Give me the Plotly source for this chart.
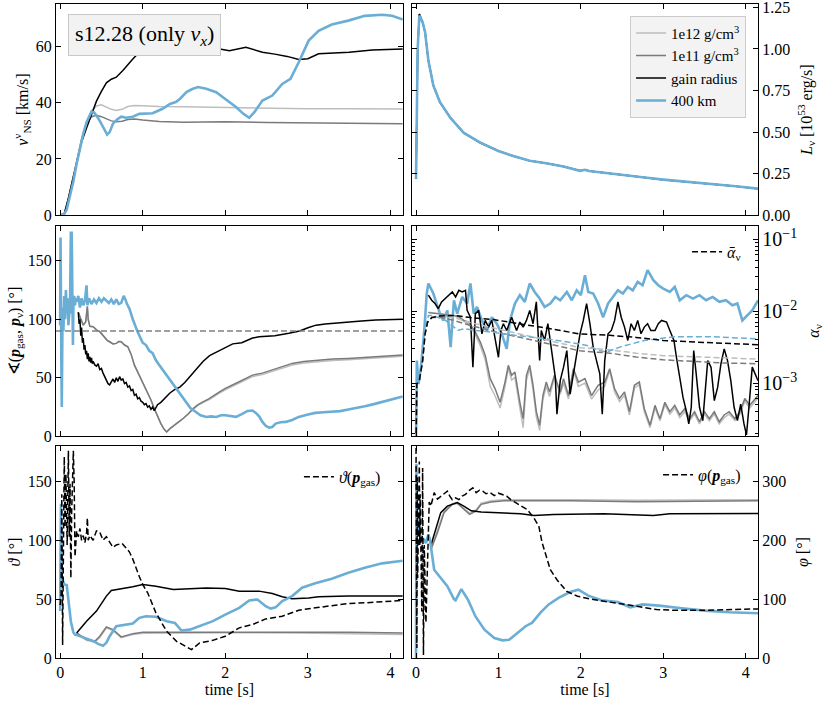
import plotly.graph_objects as go

# ---------------- values (time in s) ----------------

# neutrino kick velocity [km/s]
t_vns_inner = [0, 0.05, 0.1, 0.15, 0.2, 0.26, 0.32, 0.38, 0.44, 0.5, 0.56, 0.62, 0.68, 0.75, 0.82, 0.9, 1.0, 1.2,
               1.5, 2.0, 2.5, 3.0, 3.5, 4.15]
vns_1e12 = [0, 0.5, 6, 12, 19, 27, 33, 37, 38.8, 39.2, 38.5, 37.6, 37.2, 37.6, 38.6, 39, 38.9, 38.6,
            38.5, 38.2, 37.9, 37.8, 37.8, 37.7]
vns_1e11 = [0, 0.5, 6, 12, 19, 27, 32.5, 35, 35.5, 35, 34.3, 33.5, 33.2, 33.4, 34, 34.2, 33.8, 33.3,
            33, 33.2, 32.9, 32.8, 32.7, 32.5]
t_vns_gain = [0, 0.05, 0.1, 0.15, 0.2, 0.26, 0.32, 0.38, 0.44, 0.5,
              0.56, 0.62, 0.68, 0.76, 0.82, 0.88, 0.96, 1.05, 1.3, 1.6,
              1.85, 2.05, 2.25, 2.45, 2.6, 2.75, 2.89, 3.0, 3.13, 3.3,
              3.5, 3.78, 4.15]
vns_gain = [0, 0.5, 6, 12, 19, 26, 31, 36, 40.5, 44,
            47, 48.3, 49, 51.4, 53.5, 55.5, 57.9, 59, 60, 60,
            59.5, 58.4, 59.6, 57.9, 57.2, 56.4, 55.3, 55.6, 57.3, 57.6,
            57.9, 58.7, 59]
t_vns_400 = [0, 0.05, 0.08, 0.12, 0.16, 0.2, 0.24, 0.28, 0.32, 0.35,
             0.38, 0.41, 0.44, 0.48, 0.52, 0.55, 0.57, 0.6, 0.64, 0.69,
             0.74, 0.8, 0.88, 0.96, 1.04, 1.12, 1.18, 1.24, 1.33, 1.4,
             1.45, 1.53, 1.6, 1.67, 1.77, 1.89, 2.0, 2.13, 2.22, 2.29,
             2.35, 2.45, 2.57, 2.69, 2.79, 2.89, 3.01, 3.13, 3.29, 3.49,
             3.69, 3.9, 4.02, 4.15]
vns_400 = [0, 0.5, 2, 6.5, 12, 18.3, 24, 28.9, 33, 35,
           36.8, 36.5, 35.4, 33.5, 31.3, 29.5, 28.6, 29.5, 32.5, 34,
           35, 34.6, 35, 36, 36, 36.2, 37, 37.8, 39.5, 40.2,
           41.3, 43.7, 44.8, 45.5, 44.9, 43.7, 41.3, 38.4, 36, 34.6,
           36.5, 40.7, 42.5, 46.6, 48.4, 54.3, 62, 65.5, 67.7, 69.1,
           70.8, 71.2, 70.8, 69.5]

# neutrino luminosity [1e53 erg/s]
t_lum = [0, 0.005, 0.02, 0.04, 0.06, 0.08, 0.11, 0.15, 0.21, 0.29,
         0.42, 0.58, 0.78, 1.0, 1.18, 1.38, 1.58, 1.79, 1.99, 2.05,
         2.1, 2.27, 2.51, 2.75, 3.0, 3.28, 3.56, 3.88, 4.15]
lum_400 = [0.22, 0.45, 1.0, 1.2, 1.18, 1.16, 1.1, 0.93, 0.78, 0.68,
           0.584, 0.495, 0.436, 0.386, 0.356, 0.327, 0.313, 0.293, 0.267, 0.273,
           0.266, 0.257, 0.242, 0.228, 0.214, 0.202, 0.192, 0.174, 0.16]
lum_inner = [0.22, 0.45, 1.0, 1.21, 1.18, 1.16, 1.1, 0.93, 0.78, 0.68,
             0.584, 0.495, 0.436, 0.386, 0.356, 0.327, 0.313, 0.293, 0.267, 0.273,
             0.266, 0.257, 0.242, 0.228, 0.214, 0.202, 0.192, 0.174, 0.16]

# angle between gas momentum and neutrino momentum [deg]
ortho_angle = 90
t_ang_gain = [0.22, 0.23, 0.24, 0.25, 0.26, 0.27, 0.28, 0.29, 0.30, 0.31,
              0.32, 0.33, 0.34, 0.35, 0.36, 0.37, 0.38, 0.39, 0.40, 0.42,
              0.44, 0.46, 0.48, 0.50, 0.52, 0.54, 0.56, 0.58, 0.60, 0.62,
              0.64, 0.66, 0.68, 0.70, 0.72, 0.74, 0.76, 0.78, 0.80, 0.82,
              0.84, 0.86, 0.88, 0.90, 0.92, 0.94, 0.96, 0.98, 1.00, 1.02,
              1.04, 1.06, 1.08, 1.10, 1.12, 1.14, 1.18, 1.22, 1.27, 1.33,
              1.39, 1.45, 1.51, 1.57, 1.65, 1.73, 1.81, 1.89, 2.0, 2.09,
              2.2, 2.33, 2.41, 2.49, 2.6, 2.77, 2.9, 3.01, 3.1, 3.21,
              3.35, 3.49, 3.65, 3.82, 4.0, 4.15]
ang_gain = [106, 96, 100, 86, 93, 80, 84, 74, 78, 70,
            73, 66, 71, 64, 68, 63, 67, 62, 64, 61,
            60, 62, 57, 58, 54, 51, 47, 45, 44, 47,
            49, 46, 50, 47, 51, 48, 49, 45, 46, 42,
            43, 39, 40, 35, 36, 32, 33, 30, 29, 27,
            28, 25, 26, 23, 25, 22, 27, 29, 33, 37,
            40, 42, 46, 51, 57, 64, 69, 72, 76, 79,
            80, 84, 85, 85.5, 86, 88, 90, 93, 95, 96,
            97, 98, 98.6, 99.4, 99.5, 100]
t_ang_inner = [0.22, 0.25, 0.28, 0.31, 0.33, 0.34, 0.36, 0.40, 0.44, 0.48,
               0.51, 0.54, 0.57, 0.60, 0.64, 0.68, 0.71, 0.74, 0.78, 0.82,
               0.86, 0.90, 0.94, 0.98, 1.02, 1.06, 1.10, 1.14, 1.18, 1.22,
               1.26, 1.29, 1.33, 1.39, 1.44, 1.49, 1.55, 1.61, 1.67, 1.73,
               1.8, 1.93, 2.0, 2.15, 2.33, 2.45, 2.57, 2.7, 2.81, 2.95,
               3.09, 3.3, 3.49, 3.65, 3.82, 4.0, 4.15]
ang_1e11 = [106, 100, 95, 98, 111, 100, 94, 93.7, 91, 89.4,
            87, 83.7, 82, 80.8, 79, 79.4, 81, 80.8, 78, 76.5,
            70, 60.8, 55, 49.4, 44, 38, 31, 23.7, 17, 10.9,
            6, 3.7, 6.5, 9.4, 12.5, 15.2, 19, 23.7, 27, 29.4,
            32, 38, 40.9, 46, 52.3, 54, 56.6, 60, 62.3, 64,
            65, 66, 66.6, 67.3, 68, 68.7, 69.4]
ang_1e12 = [106, 100, 95, 98, 111, 100, 94, 93.7, 91, 89.4,
            87, 83.7, 82, 80.8, 79, 79.4, 81, 80.8, 78, 76.5,
            70, 60.8, 55, 49.4, 44, 38, 31, 23.7, 17, 10.9,
            6, 3.7, 6.5, 9.4, 12.5, 15.2, 19, 23.2, 26.5, 28.8,
            31.2, 37, 39.8, 44.8, 51, 52.7, 55.3, 58.7, 61, 62.7,
            63.7, 64.8, 65.5, 66.2, 67, 67.7, 68.5]
t_ang_400 = [0.0, 0.005, 0.01, 0.015, 0.02, 0.025, 0.03, 0.04, 0.05, 0.06,
             0.07, 0.08, 0.09, 0.10, 0.11, 0.12, 0.13, 0.135, 0.14, 0.145,
             0.15, 0.155, 0.16, 0.17, 0.18, 0.19, 0.20, 0.22, 0.24, 0.26,
             0.28, 0.30, 0.32, 0.33, 0.35, 0.38, 0.41, 0.44, 0.47, 0.50,
             0.53, 0.56, 0.59, 0.62, 0.65, 0.68, 0.71, 0.74, 0.77, 0.79,
             0.81, 0.84, 0.88, 0.94, 1.0, 1.04, 1.08, 1.12, 1.16, 1.2,
             1.25, 1.3, 1.35, 1.4, 1.46, 1.52, 1.58, 1.64, 1.7, 1.77,
             1.83, 1.89, 1.95, 2.0, 2.07, 2.13, 2.2, 2.27, 2.33, 2.37,
             2.41, 2.45, 2.49, 2.53, 2.57, 2.61, 2.67, 2.73, 2.81, 2.89,
             2.99, 3.09, 3.19, 3.29, 3.39, 3.49, 3.59, 3.69, 3.8, 3.9,
             4.0, 4.15]
ang_400 = [95, 170, 120, 60, 25, 70, 110, 90, 120, 100,
           125, 105, 118, 95, 110, 112, 175, 105, 175, 150,
           120, 78, 110, 120, 112, 118, 115, 120, 110, 118,
           112, 116, 129, 112, 118, 113, 117, 114, 118, 115,
           118, 116, 114, 117, 113, 117, 113, 114, 120, 117,
           113, 109, 100, 89, 80, 78, 73, 71, 65, 61,
           56, 51, 46, 41, 35, 29, 24, 21, 18, 16.5,
           17, 16.5, 18, 18, 17, 16.6, 19, 21.7, 22, 20,
           17, 12.3, 9, 7.4, 8, 10.9, 12, 12.3, 14, 16.6,
           18.5, 20, 20.5, 20.9, 21.5, 22.9, 24, 25.7, 27.5, 29.4,
           31, 34]

# anisotropy parameter alpha_nu (solid) and its time average (dashed)
t_alpha_400 = [0.0, 0.01, 0.03, 0.06, 0.1, 0.13, 0.15, 0.18, 0.21, 0.25,
               0.29, 0.33, 0.38, 0.42, 0.46, 0.5, 0.56, 0.62, 0.66, 0.7,
               0.74, 0.8, 0.86, 0.92, 0.98, 1.04, 1.1, 1.14, 1.2, 1.26,
               1.32, 1.38, 1.44, 1.5, 1.56, 1.63, 1.69, 1.75, 1.83, 1.89,
               1.95, 2.0, 2.05, 2.09, 2.15, 2.21, 2.27, 2.33, 2.39, 2.45,
               2.51, 2.57, 2.63, 2.69, 2.75, 2.81, 2.88, 2.94, 3.0, 3.08,
               3.14, 3.2, 3.28, 3.36, 3.44, 3.52, 3.6, 3.68, 3.76, 3.84,
               3.9, 3.96, 4.02, 4.08, 4.15]
alpha_400 = [0.00015, 0.00205, 0.00097, 0.00166, 0.00537, 0.0175, 0.0241, 0.0205, 0.0175, 0.0127,
             0.0092, 0.0074, 0.0102, 0.00315, 0.0141, 0.0092, 0.0157, 0.0127, 0.0241, 0.0092,
             0.0114, 0.0074, 0.00537, 0.0082, 0.00666, 0.00483, 0.00298, 0.0074, 0.0127, 0.0166,
             0.0134, 0.0241, 0.0184, 0.0149, 0.0114, 0.0127, 0.0157, 0.0141, 0.0184, 0.0141,
             0.0194, 0.0166, 0.0315, 0.0184, 0.0175, 0.0127, 0.0082, 0.0127, 0.0157, 0.0194,
             0.0175, 0.0216, 0.0194, 0.0254, 0.0228, 0.0369, 0.0268, 0.0228, 0.0205, 0.0184,
             0.0216, 0.0141, 0.0166, 0.0149, 0.0166, 0.0141, 0.0157, 0.0134, 0.0141, 0.0120,
             0.0127, 0.0074, 0.0087, 0.0102, 0.0141]
t_alpha_gain = [0.15, 0.19, 0.23, 0.27, 0.31, 0.35, 0.40, 0.44, 0.48, 0.52,
                0.56, 0.6, 0.62, 0.66, 0.69, 0.72, 0.76, 0.80, 0.84, 0.88,
                0.92, 0.96, 1.0, 1.03, 1.06, 1.10, 1.16, 1.22, 1.26, 1.30,
                1.34, 1.38, 1.42, 1.46, 1.50, 1.52, 1.56, 1.60, 1.65, 1.69,
                1.71, 1.75, 1.79, 1.83, 1.87, 1.91, 1.95, 1.99, 2.03, 2.07,
                2.11, 2.15, 2.19, 2.23, 2.26, 2.29, 2.33, 2.37, 2.41, 2.45,
                2.49, 2.53, 2.57, 2.61, 2.65, 2.69, 2.73, 2.77, 2.81, 2.85,
                2.90, 2.94, 2.98, 3.04, 3.08, 3.13, 3.16, 3.20, 3.24, 3.28,
                3.31, 3.34, 3.37, 3.40, 3.44, 3.48, 3.52, 3.54, 3.58, 3.62,
                3.66, 3.70, 3.74, 3.78, 3.82, 3.86, 3.90, 3.94, 3.98, 4.01,
                4.04, 4.08, 4.15]
alpha_gain = [0.0166, 0.0141, 0.0127, 0.0108, 0.0134, 0.0149, 0.0166, 0.0184, 0.0157, 0.0194,
              0.0184, 0.0194, 0.0102, 0.0082, 0.00166, 0.0092, 0.0102, 0.00483, 0.0074, 0.00598,
              0.0074, 0.00434, 0.00228, 0.00537, 0.00666, 0.00537, 0.0082, 0.00537, 0.00703, 0.00598,
              0.0074, 0.0102, 0.00666, 0.0134, 0.00205, 0.00537, 0.0039, 0.00666, 0.00254, 0.0012,
              0.00037, 0.00108, 0.00166, 0.00282, 0.0007, 0.00134, 0.00254, 0.00483, 0.0074, 0.0127,
              0.00666, 0.00315, 0.00205, 0.00134, 0.00037, 0.00205, 0.00483, 0.00537, 0.0074, 0.0134,
              0.0082, 0.00598, 0.0039, 0.00666, 0.00537, 0.0074, 0.00483, 0.00598, 0.00666, 0.00537,
              0.00537, 0.00666, 0.0074, 0.00703, 0.00537, 0.0039, 0.00228, 0.0012, 0.00063, 0.00041,
              0.00027, 0.00046, 0.00282, 0.00134, 0.00046, 0.0003, 0.00108, 0.00205, 0.00166, 0.00057,
              0.00087, 0.00184, 0.00298, 0.00205, 0.00108, 0.00046, 0.0003, 0.00051, 0.00027, 0.00019,
              0.00046, 0.00166, 0.00108]
t_alpha_inner = [0.15, 0.25, 0.35, 0.45, 0.51, 0.58, 0.64, 0.72, 0.78, 0.84,
                 0.90, 0.96, 1.02, 1.08, 1.12, 1.16, 1.20, 1.26, 1.30, 1.34,
                 1.38, 1.42, 1.46, 1.50, 1.54, 1.58, 1.62, 1.68, 1.75, 1.79,
                 1.85, 1.91, 1.97, 2.05, 2.13, 2.21, 2.29, 2.35, 2.41, 2.47,
                 2.53, 2.59, 2.65, 2.71, 2.77, 2.84, 2.90, 2.96, 3.02, 3.08,
                 3.14, 3.20, 3.26, 3.32, 3.38, 3.44, 3.50, 3.56, 3.62, 3.68,
                 3.74, 3.80, 3.87, 3.93, 3.99, 4.05, 4.15]
alpha_1e11 = [0.0095, 0.0092, 0.0089, 0.0087, 0.0085, 0.0074, 0.00703, 0.0051, 0.0037, 0.00242,
              0.00115, 0.00083, 0.00054, 0.00103, 0.00176, 0.00128, 0.00142, 0.00054, 0.00032, 0.00128,
              0.00176, 0.00093, 0.0004, 0.00026, 0.00067, 0.00103, 0.00075, 0.00128, 0.00075, 0.00115,
              0.00067, 0.00158, 0.00103, 0.00115, 0.00067, 0.00093, 0.00103, 0.00158, 0.00083, 0.00061,
              0.00075, 0.0004, 0.00093, 0.00103, 0.00044, 0.00026, 0.00049, 0.00032, 0.00054, 0.0004,
              0.00049, 0.00036, 0.00044, 0.00032, 0.0004, 0.00029, 0.0004, 0.00032, 0.0004, 0.00029,
              0.00036, 0.0004, 0.00032, 0.0004, 0.00061, 0.00049, 0.00067]
alpha_1e12 = [0.0096, 0.0094, 0.0090, 0.0086, 0.0082, 0.0072, 0.0066, 0.0047, 0.0033, 0.0021,
              0.0009, 0.00066, 0.00045, 0.0009, 0.0016, 0.0011, 0.0012, 0.00045, 0.00024, 0.0011,
              0.0016, 0.0008, 0.00034, 0.00022, 0.0006, 0.0009, 0.00065, 0.0012, 0.0007, 0.001,
              0.0006, 0.0015, 0.0009, 0.001, 0.0006, 0.0008, 0.0009, 0.0015, 0.00075, 0.00055,
              0.00068, 0.00036, 0.00085, 0.00095, 0.0004, 0.00024, 0.00045, 0.0003, 0.0005, 0.00037,
              0.00045, 0.00033, 0.0004, 0.0003, 0.00037, 0.00027, 0.00037, 0.0003, 0.00037, 0.00027,
              0.00033, 0.00037, 0.0003, 0.00037, 0.00056, 0.00045, 0.00062]
t_abar = [0.0, 0.01, 0.04, 0.08, 0.11, 0.14, 0.19, 0.29, 0.46, 0.66,
          0.94, 1.26, 1.58, 1.99, 2.35, 2.67, 3.0, 3.4, 3.72, 4.15]
abar_gain = [0.00015, 0.00097, 0.00108, 0.00205, 0.00483, 0.0070, 0.0081, 0.0085, 0.0087, 0.0081,
             0.0076, 0.00666, 0.0058, 0.0048, 0.0046, 0.0043, 0.0039, 0.0037, 0.0036, 0.0034]
abar_1e11 = [0.00015, 0.00097, 0.00108, 0.00205, 0.00483, 0.0070, 0.0081, 0.0082, 0.0074, 0.0063,
             0.0052, 0.0043, 0.0036, 0.0028, 0.0026, 0.0023, 0.0021, 0.00198, 0.0019, 0.00185]
abar_1e12 = [0.00015, 0.00097, 0.00108, 0.00205, 0.00483, 0.0070, 0.0082, 0.0085, 0.0081, 0.0069,
             0.0058, 0.0048, 0.0040, 0.0031, 0.0029, 0.0026, 0.0024, 0.0023, 0.0022, 0.00215]
t_abar_400 = [0.0, 0.01, 0.04, 0.08, 0.11, 0.15, 0.2, 0.35, 0.51, 0.59,
              0.7, 0.91, 1.2, 1.6, 1.97, 2.09, 2.21, 2.31, 2.49, 2.77,
              3.14, 3.58, 4.15]
abar_400 = [0.00015, 0.00097, 0.00108, 0.0022, 0.0055, 0.0087, 0.0087, 0.0075, 0.0054, 0.0057,
            0.0054, 0.0051, 0.0046, 0.0041, 0.0035, 0.0033, 0.00284, 0.0027, 0.0032, 0.0039,
            0.0044, 0.0044, 0.0041]

# polar angle theta [deg]
t_theta_gas = [0.0, 0.012, 0.02, 0.03, 0.05, 0.06, 0.07, 0.085, 0.10, 0.11,
               0.12, 0.13, 0.14, 0.16, 0.17, 0.18, 0.2, 0.22, 0.24, 0.26,
               0.28, 0.3, 0.32, 0.33, 0.34, 0.36, 0.4, 0.44, 0.48, 0.52,
               0.56, 0.6, 0.64, 0.68, 0.72, 0.75, 0.78, 0.81, 0.84, 0.88,
               0.92, 0.96, 1.0, 1.06, 1.16, 1.29, 1.41, 1.51, 1.59, 1.69,
               1.85, 2.0, 2.17, 2.33, 2.49, 2.69, 2.89, 3.09, 3.29, 3.49,
               3.69, 3.9, 4.15]
theta_gas = [45, 54, 139, 11, 171, 111, 156, 96, 176, 103,
             148, 68, 125, 176, 150, 86, 108, 103, 110, 100,
             104, 98, 106, 119, 100, 104, 100, 108, 107, 100,
             103, 98, 94, 96, 97, 97.4, 95, 92.3, 90, 84,
             76, 69, 62.5, 55.4, 38.4, 22.7, 14.2, 9.9, 7.1, 12.8,
             15, 18.5, 25.6, 28.4, 33.2, 35.5, 40.6, 42.6, 44.6, 46.3,
             46.9, 47.7, 48.9]
t_theta_gain = [0.2, 0.32, 0.44, 0.56, 0.62, 0.76, 0.88, 1.0, 1.16, 1.37, 1.57, 1.77, 2.0, 2.17, 2.41,
                2.57, 2.69, 2.81, 3.01, 3.13, 3.49, 4.15]
theta_gain = [21.3, 31.3, 39.8, 52.6, 57.4, 58.8, 60.5, 62.5, 61, 58.2, 58.8, 59.4, 59.1, 56.8, 56.8,
              54.8, 52, 50.3, 50.9, 52, 52.6, 52.6]
t_theta_inner = [0.2, 0.32, 0.42, 0.48, 0.56, 0.64, 0.74, 0.88, 1.0, 1.29, 2.09, 2.89, 3.5, 4.15]
theta_1e11 = [21.3, 15.6, 14.2, 18.5, 26.4, 24.1, 17.9, 20.7, 21.9, 21.9, 22.2, 22.2, 21.9, 21.3]
theta_1e12 = [21, 15, 13.5, 17.5, 25.5, 23.5, 17.2, 20, 21, 21.2, 21.5, 21.2, 20.5, 20]
t_theta_400 = [0.0, 0.005, 0.01, 0.02, 0.05, 0.08, 0.1, 0.13, 0.16, 0.18,
               0.22, 0.3, 0.4, 0.46, 0.52, 0.56, 0.6, 0.68, 0.8, 0.88,
               0.96, 1.04, 1.16, 1.29, 1.39, 1.47, 1.57, 1.69, 1.85, 2.0,
               2.17, 2.29, 2.39, 2.49, 2.55, 2.61, 2.69, 2.81, 2.93, 3.09,
               3.29, 3.49, 3.69, 3.9, 4.15]
theta_400 = [40, 90, 131, 68.5, 62.5, 62, 50, 31, 22, 19.9,
             19, 17, 14.5, 12, 10.5, 13, 18.5, 27, 28.4, 29.3,
             34.1, 35.5, 35, 31.3, 29.8, 23.3, 24.1, 27, 31.3, 36.9,
             42.6, 48.9, 49.7, 44, 42, 43, 48.3, 52.6, 59.7, 63.4,
             67.3, 72.4, 76.7, 80.4, 82.6]

# azimuthal angle phi [deg]
t_phi_gas = [0.0, 0.01, 0.015, 0.02, 0.04, 0.045, 0.05, 0.07, 0.08, 0.09,
             0.10, 0.12, 0.14, 0.16, 0.18, 0.22, 0.26, 0.30, 0.34, 0.38,
             0.41, 0.44, 0.48, 0.52, 0.56, 0.6, 0.64, 0.69, 0.73, 0.77,
             0.81, 0.85, 0.9, 0.95, 1.0, 1.05, 1.1, 1.15, 1.25, 1.35,
             1.43, 1.49, 1.53, 1.57, 1.63, 1.71, 1.83, 1.96, 2.12, 2.28,
             2.48, 2.68, 2.92, 3.17, 3.49, 3.89, 4.15]
phi_gas = [357, 17, 307, 136, 334, 192, 278, 79, 323, 5,
           192, 60, 170, 265, 258, 281, 270, 275, 280, 283.6,
           275, 269, 272, 269, 275, 278, 284, 289, 281, 285,
           283.6, 279, 281, 276, 280, 278, 275, 269, 261, 252,
           238, 224, 196, 179, 150, 133, 113, 105, 100, 96.4,
           92.5, 88, 82.2, 81, 81, 82.2, 83.4]
t_phi_gain = [0.18, 0.24, 0.3, 0.38, 0.5, 0.58, 0.67, 0.79, 0.99, 1.27, 1.43, 1.67, 2.28, 2.88, 3.08, 4.15]
phi_gain = [191, 221, 247, 258, 264, 258, 250, 248, 247, 245, 242, 244, 245, 242, 245, 245.6]
t_phi_inner = [0.18, 0.26, 0.34, 0.44, 0.5, 0.58, 0.65, 0.73, 0.79, 0.91, 1.07, 1.88, 2.68, 4.15]
phi_1e11 = [184, 213, 247, 261, 263, 252, 244, 250, 261, 265, 267, 267, 265.5, 267]
phi_1e12 = [186, 216, 249, 262, 264, 254, 246, 252, 263, 267, 269, 269, 268, 269]
t_phi_400 = [0.0, 0.005, 0.01, 0.02, 0.05, 0.1, 0.12, 0.15, 0.17, 0.22,
             0.28, 0.38, 0.46, 0.48, 0.55, 0.63, 0.72, 0.83, 0.95, 1.05,
             1.13, 1.21, 1.33, 1.41, 1.51, 1.61, 1.73, 1.87, 1.97, 2.09,
             2.25, 2.45, 2.6, 2.75, 2.95, 3.2, 3.5, 3.8, 4.15]
phi_400 = [0, 330, 252, 230, 207, 201, 195, 210, 200, 150,
           139, 122, 100, 98, 117, 99, 71, 48, 34, 30,
           31, 40, 54, 60, 77, 91, 102, 112, 116, 106,
           98, 95, 86, 91, 89, 85, 80.5, 77.7, 76]

# ---------------- figure ----------------
light = '#bdbdbd'
grey = '#7a7a7a'
black = '#000000'
blue = '#6aaed6'
dashes = '6px,3px'

fig = go.Figure()


def add_line(x, y, ax, color, width=1.5, dash=None, name=None, legend=None):
    fig.add_trace(go.Scatter(x=x, y=y, xaxis='x' + ax, yaxis='y' + ax, mode='lines',
                             line=dict(color=color, width=width, dash=dash),
                             name=name, showlegend=name is not None, legend=legend,
                             hoverinfo='skip'))


# top left: kick velocity
add_line(t_vns_inner, vns_1e12, '', light)
add_line(t_vns_inner, vns_1e11, '', grey)
add_line(t_vns_gain, vns_gain, '', black)
add_line(t_vns_400, vns_400, '', blue, 2.6)

# top right: luminosity (carries the legend)
add_line(t_lum, lum_inner, '2', light, name='1e12 g/cm<sup>3</sup>', legend='legend')
add_line(t_lum, lum_inner, '2', grey, name='1e11 g/cm<sup>3</sup>', legend='legend')
add_line(t_lum, lum_inner, '2', black, name='gain radius', legend='legend')
add_line(t_lum, lum_400, '2', blue, 2.6, name='400 km', legend='legend')

# middle left: angle between momenta
add_line(t_ang_inner, ang_1e12, '3', light)
add_line(t_ang_inner, ang_1e11, '3', grey)
add_line(t_ang_gain, ang_gain, '3', black)
add_line(t_ang_400, ang_400, '3', blue, 2.6)

# middle right: anisotropy parameter
add_line(t_alpha_400, alpha_400, '4', blue, 2.6)
add_line(t_alpha_inner, alpha_1e12, '4', light)
add_line(t_alpha_inner, alpha_1e11, '4', grey)
add_line(t_alpha_gain, alpha_gain, '4', black)
add_line(t_abar, abar_1e12, '4', light, dash=dashes)
add_line(t_abar, abar_1e11, '4', grey, dash=dashes)
add_line(t_abar_400, abar_400, '4', blue, dash=dashes)
add_line(t_abar, abar_gain, '4', black, dash=dashes, name='<i>ᾱ</i><sub>ν</sub>', legend='legend2')

# bottom left: theta
add_line(t_theta_inner, theta_1e12, '5', light)
add_line(t_theta_inner, theta_1e11, '5', grey)
add_line(t_theta_gain, theta_gain, '5', black)
add_line(t_theta_400, theta_400, '5', blue, 2.6)
add_line(t_theta_gas, theta_gas, '5', black, dash=dashes,
         name='<i>ϑ</i>(<b><i>p</i></b><sub>gas</sub>)', legend='legend3')

# bottom right: phi
add_line(t_phi_inner, phi_1e12, '6', light)
add_line(t_phi_inner, phi_1e11, '6', grey)
add_line(t_phi_gain, phi_gain, '6', black)
add_line(t_phi_400, phi_400, '6', blue, 2.6)
add_line(t_phi_gas, phi_gas, '6', black, dash=dashes,
         name='<i>φ</i>(<b><i>p</i></b><sub>gas</sub>)', legend='legend4')

frame = dict(showline=True, linecolor='black', linewidth=1.1, mirror='allticks',
             ticks='inside', ticklen=5, tickwidth=1, tickcolor='black',
             showgrid=False, zeroline=False, tickfont=dict(size=16, color='black'),
             automargin=False)
t_range = [-0.05, 4.15]
t_ticks = [0, 1, 2, 3, 4]
col_l = [0, 0.494]
col_r = [0.507, 1]
row_top = [0.677, 1]
row_mid = [0.339, 0.661]
row_bot = [0, 0.324]
title_font = dict(size=16, color='black')
left_title = dict(font=title_font, standoff=3)
right_title = dict(font=title_font, standoff=11)

fig.update_layout(
    width=830, height=703,
    margin=dict(l=56, r=72, t=4, b=45),
    paper_bgcolor='white', plot_bgcolor='white',
    font=dict(family='Liberation Serif, DejaVu Serif, serif', size=16, color='black'),
    xaxis=dict(domain=col_l, anchor='y', range=t_range, tickvals=t_ticks, showticklabels=False, **frame),
    xaxis2=dict(domain=col_r, anchor='y2', range=t_range, tickvals=t_ticks, showticklabels=False, **frame),
    xaxis3=dict(domain=col_l, anchor='y3', range=t_range, tickvals=t_ticks, showticklabels=False, **frame),
    xaxis4=dict(domain=col_r, anchor='y4', range=t_range, tickvals=t_ticks, showticklabels=False, **frame),
    xaxis5=dict(domain=col_l, anchor='y5', range=t_range, tickvals=t_ticks,
                title=dict(text='time [s]', font=title_font, standoff=2), **frame),
    xaxis6=dict(domain=col_r, anchor='y6', range=t_range, tickvals=t_ticks,
                title=dict(text='time [s]', font=title_font, standoff=2), **frame),
    yaxis=dict(domain=row_top, anchor='x', range=[0, 75], tickvals=[0, 20, 40, 60],
               title=dict(text='<i>v</i><sup>ν</sup><sub>NS</sub> [km/s]', **left_title), **frame),
    yaxis2=dict(domain=row_top, anchor='x2', side='right', range=[0, 1.27],
                tickvals=[0, 0.25, 0.5, 0.75, 1.0, 1.25], tickformat='.2f', ticklabeloverflow='allow',
                title=dict(text='<i>L</i><sub>ν</sub> [10<sup>53</sup> erg/s]', **right_title), **frame),
    yaxis3=dict(domain=row_mid, anchor='x3', range=[0, 180], tickvals=[0, 50, 100, 150],
                title=dict(text='∢(<b><i>p</i></b><sub>gas</sub>, <b><i>p</i></b><sub>ν</sub>) [°]',
                           **left_title), **frame),
    yaxis4=dict(domain=row_mid, anchor='x4', side='right', type='log', range=[-3.74, -0.815],
                dtick=1, exponentformat='power', showexponent='all',
                minor=dict(ticks='inside', ticklen=3, tickcolor='black', dtick='D1', showgrid=False),
                title=dict(text='<i>α</i><sub>ν</sub>', **right_title), **frame),
    yaxis5=dict(domain=row_bot, anchor='x5', range=[0, 180], tickvals=[0, 50, 100, 150],
                title=dict(text='<i>ϑ</i> [°]', **left_title), **frame),
    yaxis6=dict(domain=row_bot, anchor='x6', side='right', range=[0, 360], tickvals=[0, 100, 200, 300],
                title=dict(text='<i>φ</i> [°]', **right_title), **frame),
    legend=dict(x=0.983, y=0.982, xanchor='right', yanchor='top', bgcolor='rgba(242,242,242,0.95)',
                bordercolor='#cccccc', borderwidth=1, font=dict(size=15), tracegroupgap=0),
    legend2=dict(x=0.983, y=0.621, xanchor='right', yanchor='middle', bgcolor='rgba(0,0,0,0)',
                 font=dict(size=16)),
    legend3=dict(x=0.47, y=0.277, xanchor='right', yanchor='middle', bgcolor='rgba(0,0,0,0)',
                 font=dict(size=16)),
    legend4=dict(x=0.983, y=0.280, xanchor='right', yanchor='middle', bgcolor='rgba(0,0,0,0)',
                 font=dict(size=16)),
    shapes=[dict(type='line', xref='x3 domain', yref='y3', x0=0, x1=1, y0=ortho_angle, y1=ortho_angle,
                 line=dict(color='#808080', width=1.5, dash=dashes))],
    annotations=[dict(text='s12.28 (only <i>ν<sub>x</sub></i>)', xref='paper', yref='paper',
                      x=0.017, y=0.985, xanchor='left', yanchor='top', showarrow=False,
                      font=dict(size=22), bgcolor='#f2f2f2', bordercolor='#c8c8c8',
                      borderwidth=1, borderpad=6)],
)

# the page body has a default 8px margin; drop it so the figure sits at the window origin
fig.write_html("out.html", config={'displayModeBar': False},
               post_script="document.body.style.margin = '0px';")
